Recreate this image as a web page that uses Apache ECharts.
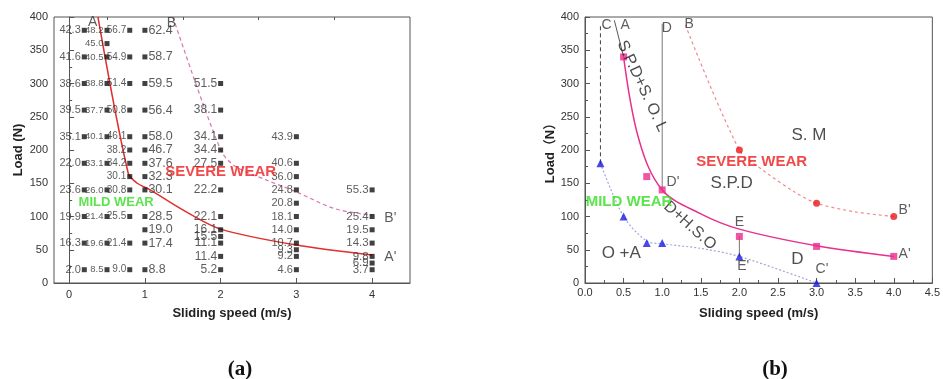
<!DOCTYPE html>
<html>
<head>
<meta charset="utf-8">
<script src="https://cdn.jsdelivr.net/npm/echarts@6/dist/echarts.min.js"></script>
<style>
  html, body { margin: 0; padding: 0; background: #fff; }
  #chart { width: 943px; height: 379px; }
</style>
</head>
<body>
<div id="chart"></div>
<script>
// ---- panel (a): wear values per sliding speed, pairs of [load, wear]
const s02 = [[380, 42.3], [340, 41.6], [300, 38.6], [260, 39.5], [220, 35.1], [180, 22.0], [140, 23.6], [100, 19.9], [60, 16.3], [20, 2.0]]
const s05 = [[380, 48.2], [360, 45.0], [340, 40.5], [300, 38.8], [260, 37.7], [220, 40.1], [180, 33.1], [140, 26.0], [100, 21.4], [60, 19.6], [20, 8.5]]
const s08 = [[380, 56.7], [340, 54.9], [300, 51.4], [260, 50.8], [220, 46.1], [200, 38.2], [180, 34.2], [160, 30.1], [140, 30.8], [100, 25.5], [60, 21.4], [20, 9.0]]
const s10 = [[380, 62.4], [340, 58.7], [300, 59.5], [260, 56.4], [220, 58.0], [200, 46.7], [180, 37.6], [160, 32.3], [140, 30.1], [100, 28.5], [80, 19.0], [60, 17.4], [20, 8.8]]
const s20 = [[300, 51.5], [260, 38.1], [220, 34.1], [200, 34.4], [180, 27.5], [140, 22.2], [100, 22.1], [80, 16.1], [70, 15.5], [60, 11.1], [40, 11.4], [20, 5.2]]
const s30 = [[220, 43.9], [180, 40.6], [160, 36.0], [140, 24.8], [120, 20.8], [100, 18.1], [80, 14.0], [60, 10.7], [50, 9.3], [40, 9.2], [20, 4.6]]
const s40 = [[140, 55.3], [100, 25.4], [80, 19.5], [60, 14.3], [40, 9.8], [30, 6.9], [20, 3.7]]
const speedsA = [0.2, 0.5, 0.8, 1, 2, 3, 4]
const columnsA = [s02, s05, s08, s10, s20, s30, s40]
// boundary lines
const lineAA = [[0.38, 400], [0.78, 165], [0.9, 150], [1.07, 140], [1.5, 110], [2, 81], [3, 57], [4, 42]]
const lineBB = [[1.37, 400], [2, 200], [2.2, 175], [2.6, 155], [3, 137], [3.5, 112], [4, 102]]
const lettersA = [['A', 0.31, 393], ['B', 1.35, 391], ["B'", 4.24, 98], ["A'", 4.24, 39]]

// ---- panel (b)
const pinkPts = [[0.5, 340], [0.8, 160], [1, 140], [2, 70], [3, 55], [4, 40]]
const pinkCurve = [[0.5, 340], [0.7, 215], [1, 140], [1.5, 104], [2, 81], [3, 56], [4, 40]]
const segA = [[0.38, 395], [0.5, 340]]
const redPts = [[2, 200], [3, 120], [4, 100]]
const redCurve = [[1.3, 388], [2, 200], [2.3, 170], [2.7, 138], [3, 120], [3.5, 107], [4, 100]]
const bluePts = [[0.2, 180], [0.5, 100], [0.8, 60], [1, 60], [2, 40], [3, 0]]
const blueCurve = [[0.2, 180], [0.5, 100], [0.8, 63], [1, 59], [1.5, 52], [2, 40], [3, 0]]
const lineC = [[0.2, 180], [0.2, 390]]
const lineD = [[1, 140], [1, 390]]
const lineE = [[2, 40], [2, 70]]
const lettersB = [['C', 0.28, 388], ['A', 0.52, 388], ['D', 1.06, 383], ['B', 1.35, 390], ["D'", 1.14, 152],
  ['E', 2.0, 92], ["E'", 2.05, 25], ["C'", 3.07, 21], ["A'", 4.14, 43], ["B'", 4.14, 110]]
const regionsB = [['D', 2.75, 35], ['O +A', 0.47, 45], ['S.P.D', 1.9, 150], ['S. M', 2.9, 222]]
const rotatedB = [['S.P.D+S. O. L', 0.74, 296, -65], ['D+H.S.O', 1.36, 86, -42]]

const font = 'Arial, "Liberation Sans", "Noto Sans CJK SC", sans-serif'
const labelSizes = [11, 9.5, 10, 12.5, 12, 11, 11.5]

function textSeries (xi, yi, items, color, size, weight) {
  return {
    type: 'scatter',
    xAxisIndex: xi,
    yAxisIndex: yi,
    symbol: 'rect',
    symbolSize: 1,
    itemStyle: { color: 'transparent' },
    silent: true,
    z: 5,
    data: items.map(t => ({ name: t[0], value: [t[1], t[2]], label: { rotate: t[3] || 0 } })),
    label: {
      show: true,
      position: 'inside',
      formatter: '{b}',
      color: color,
      fontSize: size,
      fontWeight: weight || 'normal',
      fontFamily: font
    }
  }
}

let series = []
// squares with wear values
for (let i = 0; i < speedsA.length; i++) {
  series.push({
    type: 'scatter',
    xAxisIndex: 0,
    yAxisIndex: 0,
    symbol: 'rect',
    symbolSize: 5,
    itemStyle: { color: '#111' },
    z: 4,
    data: columnsA[i].map(p => [speedsA[i], p[0], p[1]]),
    label: {
      show: true,
      position: speedsA[i] === 1 ? 'right' : 'left',
      distance: 1,
      color: '#333',
      fontSize: labelSizes[i],
      fontFamily: font,
      formatter: p => p.value[2].toFixed(1)
    }
  })
}
series.push({
  type: 'line', xAxisIndex: 0, yAxisIndex: 0, data: lineAA, smooth: 0.3, symbol: 'none',
  lineStyle: { color: '#e0302d', width: 1.5 }, z: 3
})
series.push({
  type: 'line', xAxisIndex: 0, yAxisIndex: 0, data: lineBB, smooth: 0.3, symbol: 'none',
  lineStyle: { color: '#d874b2', width: 1.2, type: [4, 3] }, z: 3
})
series.push(textSeries(0, 0, lettersA, '#333', 14))
series.push(textSeries(0, 0, [['SEVERE WEAR', 2.0, 167]], '#ee1c1c', 15, 'bold'))
series.push(textSeries(0, 0, [['MILD WEAR', 0.62, 121]], '#33dd22', 13, 'bold'))

// panel (b)
series.push({
  type: 'line', xAxisIndex: 2, yAxisIndex: 1, data: segA, symbol: 'none',
  lineStyle: { color: '#555', width: 1 }
})
series.push({
  type: 'line', xAxisIndex: 2, yAxisIndex: 1, data: pinkCurve, smooth: 0.35, symbol: 'none',
  lineStyle: { color: '#e8308d', width: 1.5 }
})
series.push({
  type: 'line', xAxisIndex: 2, yAxisIndex: 1, data: redCurve, smooth: 0.3, symbol: 'none',
  lineStyle: { color: '#ef8a8f', width: 1.2, type: [3, 3] }
})
series.push({
  type: 'line', xAxisIndex: 2, yAxisIndex: 1, data: blueCurve, smooth: 0.3, symbol: 'none',
  lineStyle: { color: '#a0a8d8', width: 1.2, type: [2, 2] }
})
series.push({
  type: 'line', xAxisIndex: 2, yAxisIndex: 1, data: lineC, symbol: 'none',
  lineStyle: { color: '#444', width: 1, type: [4, 3] }
})
series.push({
  type: 'line', xAxisIndex: 2, yAxisIndex: 1, data: lineD, symbol: 'none',
  lineStyle: { color: '#777', width: 1 }
})
series.push({
  type: 'line', xAxisIndex: 2, yAxisIndex: 1, data: lineE, symbol: 'none',
  lineStyle: { color: '#777', width: 1 }
})
series.push({
  type: 'scatter', xAxisIndex: 2, yAxisIndex: 1, data: pinkPts, symbol: 'rect', symbolSize: 7,
  itemStyle: { color: '#ec2a8c' }, z: 4
})
series.push({
  type: 'scatter', xAxisIndex: 2, yAxisIndex: 1, data: redPts, symbol: 'circle', symbolSize: 7,
  itemStyle: { color: '#e8161b' }, z: 4
})
series.push({
  type: 'scatter', xAxisIndex: 2, yAxisIndex: 1, data: bluePts, symbol: 'triangle', symbolSize: 8,
  itemStyle: { color: '#1a1ae0' }, z: 4
})
series.push(textSeries(2, 1, lettersB, '#333', 14))
series.push(textSeries(2, 1, regionsB, '#222', 17))
series.push(textSeries(2, 1, rotatedB, '#222', 16))
series.push(textSeries(2, 1, [['SEVERE WEAR', 2.16, 182]], '#ee1c1c', 15, 'bold'))
series.push(textSeries(2, 1, [['MILD WEAR', 0.57, 122]], '#33dd22', 15, 'bold'))

const axisLabelStyle = { color: '#333', fontSize: 11, fontFamily: font }
const nameStyle = { color: '#222', fontSize: 13, fontWeight: 'bold', fontFamily: font }

const option = {
  animation: false,
  title: [
    {
      text: '{p|(}{b|a}{p|)}', left: 235, top: 354, textAlign: 'center',
      textStyle: { rich: { p: { fontSize: 21, fontFamily: '"Liberation Serif", serif', color: '#111' }, b: { fontSize: 21, fontWeight: 'bold', fontFamily: '"Liberation Serif", serif', color: '#111' } } }
    },
    {
      text: '{p|(}{b|b}{p|)}', left: 770, top: 354, textAlign: 'center',
      textStyle: { rich: { p: { fontSize: 21, fontFamily: '"Liberation Serif", serif', color: '#111' }, b: { fontSize: 21, fontWeight: 'bold', fontFamily: '"Liberation Serif", serif', color: '#111' } } }
    }
  ],
  grid: [
    { left: 54, right: 533, top: 17, bottom: 96, show: true, borderColor: '#555', borderWidth: 1 },
    { left: 585, right: 4, top: 17, bottom: 96, show: true, borderColor: '#555', borderWidth: 1 }
  ],
  xAxis: [
    {
      type: 'value', gridIndex: 0, min: -0.2, max: 4.5,
      name: 'Sliding speed (m/s)', nameLocation: 'middle', nameGap: 24, nameTextStyle: nameStyle,
      axisLine: { lineStyle: { color: '#555' } },
      axisTick: { inside: true, length: 5, customValues: [0, 1, 2, 3, 4], lineStyle: { color: '#555' } },
      axisLabel: Object.assign({ customValues: [0, 1, 2, 3, 4], margin: 6 }, axisLabelStyle),
      splitLine: { show: false }
    },
    {
      type: 'value', gridIndex: 0, min: -0.2, max: 4.5,
      axisLine: { show: false },
      axisTick: { inside: true, length: 3, customValues: [0.5, 1.5, 2.5, 3.5], lineStyle: { color: '#555' } },
      axisLabel: { show: false },
      splitLine: { show: false }
    },
    {
      type: 'value', gridIndex: 1, min: 0, max: 4.5, interval: 0.5,
      name: 'Sliding speed (m/s)', nameLocation: 'middle', nameGap: 24, nameTextStyle: nameStyle,
      axisLine: { lineStyle: { color: '#555' } },
      axisTick: { inside: true, length: 5, lineStyle: { color: '#555' } },
      minorTick: { show: true, splitNumber: 2, length: 3, lineStyle: { color: '#555' } },
      axisLabel: Object.assign({ margin: 4, formatter: v => v.toFixed(1) }, axisLabelStyle),
      splitLine: { show: false }
    }
  ],
  yAxis: [
    {
      type: 'value', gridIndex: 0, min: 0, max: 400, interval: 50,
      name: 'Load (N)', nameLocation: 'middle', nameGap: 29, nameTextStyle: nameStyle,
      axisLine: { lineStyle: { color: '#555' } },
      axisTick: { inside: true, length: 5, lineStyle: { color: '#555' } },
      minorTick: { show: true, splitNumber: 2, length: 3, lineStyle: { color: '#555' } },
      axisLabel: Object.assign({ margin: 6 }, axisLabelStyle),
      splitLine: { show: false }
    },
    {
      type: 'value', gridIndex: 1, min: 0, max: 400, interval: 50,
      name: 'Load（N）', nameLocation: 'middle', nameGap: 26, nameTextStyle: nameStyle,
      axisLine: { lineStyle: { color: '#555' } },
      axisTick: { inside: true, length: 5, lineStyle: { color: '#555' } },
      minorTick: { show: true, splitNumber: 2, length: 3, lineStyle: { color: '#555' } },
      axisLabel: Object.assign({ margin: 6 }, axisLabelStyle),
      splitLine: { show: false }
    }
  ],
  series: series
}

const chart = echarts.init(document.getElementById('chart'))
chart.setOption(option)
</script>
</body>
</html>
